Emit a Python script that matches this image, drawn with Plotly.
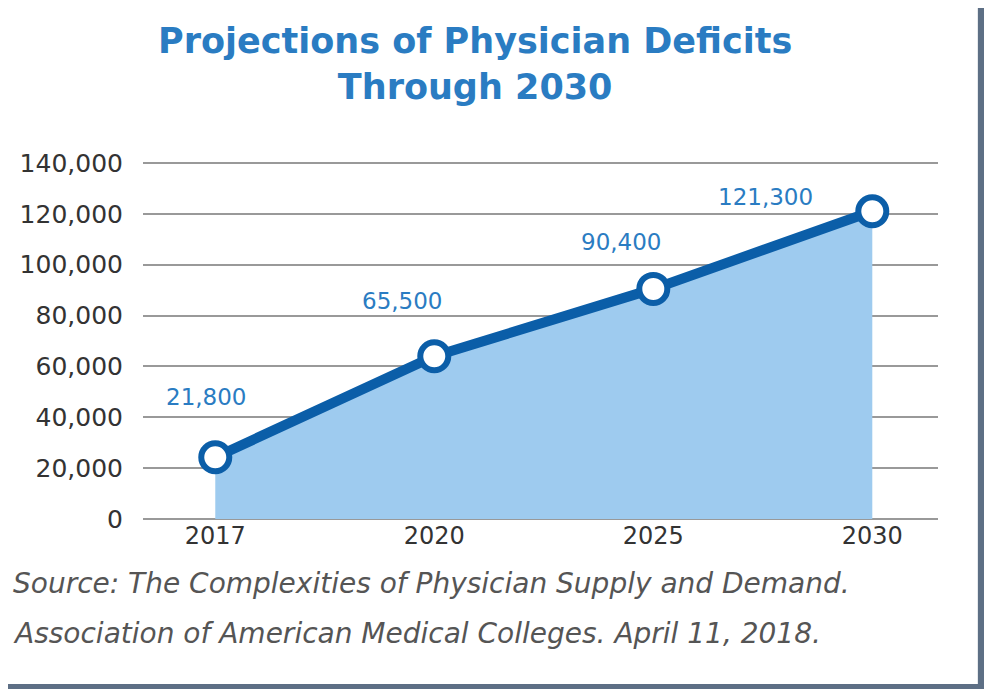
import plotly.graph_objects as go

years = ["2017", "2020", "2025", "2030"]
values = [24300, 64000, 90500, 121000]
labels = ["21,800", "65,500", "90,400", "121,300"]
label_dx = [-9, -32, -32, -107]
label_dy = [60, 55, 47, 14]

F = "DejaVu Sans"
fig = go.Figure()
fig.add_trace(go.Scatter(x=[0, 1, 2, 3], y=values, mode="lines+markers",
    fill="tozeroy", fillcolor="#9ecbef",
    line=dict(color="#0b5ea8", width=10),
    marker=dict(size=28, color="white", line=dict(color="#0b5ea8", width=6)),
    hoverinfo="skip"))

for i, t in enumerate(labels):
    fig.add_annotation(x=i, y=values[i], text=t, showarrow=False,
        xshift=label_dx[i], yshift=label_dy[i],
        font=dict(family=F, size=23, color="#2a7cc2"))

L, T, W, H = 132, 154, 798, 357
fig.update_layout(
    width=992, height=689, showlegend=False,
    paper_bgcolor="#5d6f85", plot_bgcolor="rgba(0,0,0,0)",
    margin=dict(l=L, r=992 - L - W, t=T, b=689 - T - H),
    xaxis=dict(range=[-0.33, 3.3], tickvals=[0, 1, 2, 3], ticktext=years,
        showgrid=False, zeroline=False, showline=False, ticks="",
        tickfont=dict(family=F, size=24, color="#333")),
    yaxis=dict(range=[0, 140400], tickvals=[0, 20000, 40000, 60000, 80000, 100000, 120000, 140000],
        tickformat=",",
        gridcolor="#999", gridwidth=1.5, zeroline=True, zerolinecolor="#999",
        zerolinewidth=1.5, showline=False, ticks="outside", ticklen=14,
        tickcolor="rgba(0,0,0,0)",
        tickfont=dict(family=F, size=25, color="#333")),
    shapes=[dict(type="rect", xref="paper", yref="paper", layer="below",
        x0=-(L + 40) / W, x1=(970 - L) / W, y0=-(676 - T - H) / H, y1=1 + (T + 40) / H,
        fillcolor="white", line=dict(width=0))],
    annotations=list(fig.layout.annotations) + [
        dict(xref="paper", yref="paper", x=(465 - L) / W, y=1 + (T - 56) / H,
            text="<b>Projections of Physician Deficits<br>Through 2030</b>",
            showarrow=False, xanchor="center", yanchor="middle",
            font=dict(family=F, size=35, color="#2a7cc2")),
        dict(xref="paper", yref="paper", x=(0 - L) / W, y=-(575 - T - H) / H,
            text="<i>Source: The Complexities of Physician Supply and Demand.</i>",
            showarrow=False, xanchor="left", yanchor="middle",
            font=dict(family=F, size=28, color="#555")),
        dict(xref="paper", yref="paper", x=(0 - L) / W, y=-(625 - T - H) / H,
            text="<i>Association of American Medical Colleges. April 11, 2018.</i>",
            showarrow=False, xanchor="left", yanchor="middle",
            font=dict(family=F, size=28, color="#555")),
    ])
fig.write_html("out.html")
